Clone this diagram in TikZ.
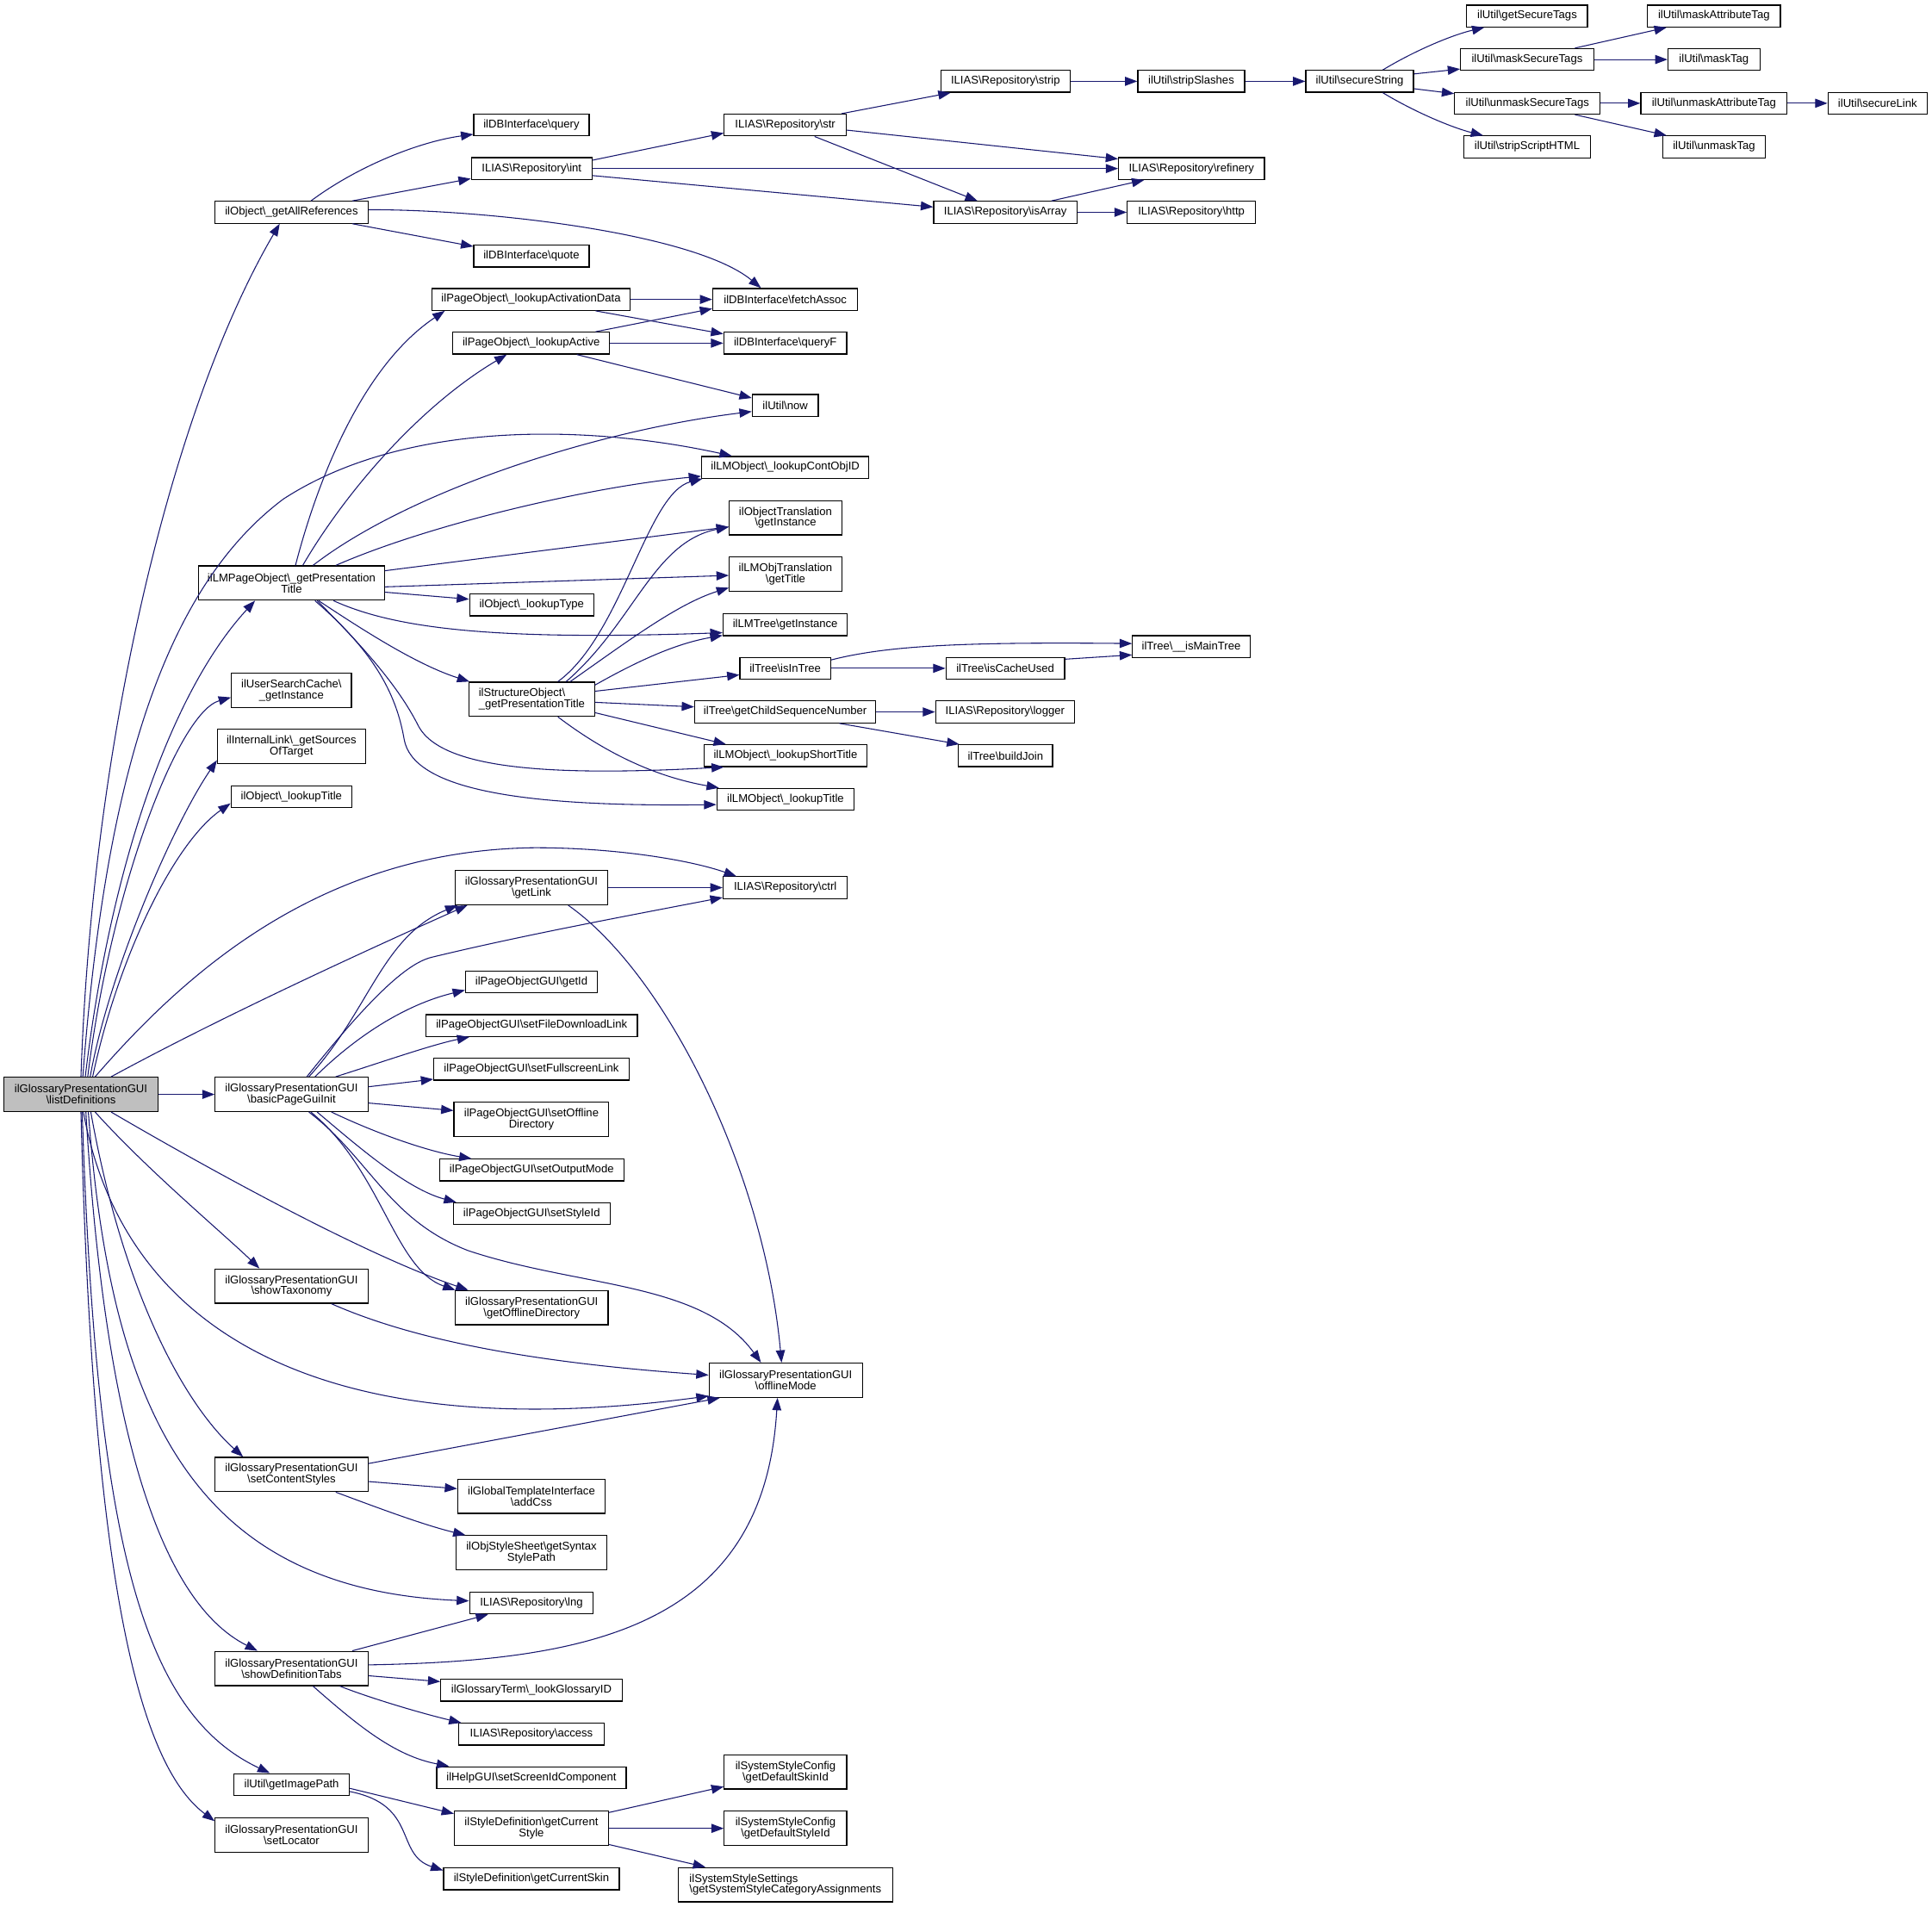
\documentclass[tikz,border=0pt]{standalone}
\usepackage{fontspec}
\setmainfont{Liberation Sans}
\usetikzlibrary{arrows.meta}
\definecolor{edgec}{RGB}{25,25,112}
\definecolor{rootfill}{RGB}{191,191,191}
\newcommand{\BS}{\textbackslash}
\begin{document}
\begin{tikzpicture}[x=1pt,y=-1pt,
  box/.style={draw=black, line width=0.85pt, fill=white, inner sep=0pt, minimum height=17.7pt,
    font=\fontsize{9.15pt}{9pt}\selectfont, align=center},
  box2/.style={box, minimum height=27.8pt},
  edg/.style={draw=edgec, line width=0.75pt, -{Triangle[length=10pt,width=7.3pt]}}]
\fill[white] (0,0) rectangle (1568,1547.7);
\useasboundingbox (0,0) rectangle (1568,1547.7);

% ---------- nodes ----------
\node[box2, fill=rootfill, minimum width=124.8pt] (ld) at (65.7,888.2) {ilGlossaryPresentationGUI\\\BS listDefinitions};
\node[box, minimum width=124pt] (gar) at (236.6,172.3) {ilObject\BS\_getAllReferences};
\node[box, minimum width=93.6pt] (query) at (431.3,101.5) {ilDBInterface\BS query};
\node[box, minimum width=98pt] (int) at (431.5,136.8) {ILIAS\BS Repository\BS int};
\node[box, minimum width=93.6pt] (quote) at (431.3,207.8) {ilDBInterface\BS quote};
\node[box, minimum width=161pt] (lad) at (431,243) {ilPageObject\BS\_lookupActivationData};
\node[box, minimum width=127pt] (lact) at (431.1,278.5) {ilPageObject\BS\_lookupActive};
\node[box, minimum width=99pt] (str) at (637.3,101.5) {ILIAS\BS Repository\BS str};
\node[box, minimum width=105pt] (strip) at (816,66) {ILIAS\BS Repository\BS strip};
\node[box, minimum width=86.7pt] (slash) at (966.8,66) {ilUtil\BS stripSlashes};
\node[box, minimum width=118.3pt] (refin) at (967,136.8) {ILIAS\BS Repository\BS refinery};
\node[box, minimum width=116.3pt] (isarr) at (815.9,172.3) {ILIAS\BS Repository\BS isArray};
\node[box, minimum width=104pt] (http) at (966.9,172.3) {ILIAS\BS Repository\BS http};
\node[box, minimum width=117.7pt] (fetch) at (637.3,243) {ilDBInterface\BS fetchAssoc};
\node[box, minimum width=99.7pt] (qf) at (637.3,278.5) {ilDBInterface\BS queryF};
\node[box, minimum width=53.5pt] (now) at (637.3,329) {ilUtil\BS now};
\node[box, minimum width=135.8pt] (cobj) at (637.3,379.3) {ilLMObject\BS\_lookupContObjID};
\node[box, minimum width=87.4pt] (secs) at (1103.5,66) {ilUtil\BS secureString};
\node[box, minimum width=98pt] (gst) at (1239.4,13) {ilUtil\BS getSecureTags};
\node[box, minimum width=108pt] (mst) at (1239.4,48.3) {ilUtil\BS maskSecureTags};
\node[box, minimum width=118pt] (umst) at (1239.6,83.8) {ilUtil\BS unmaskSecureTags};
\node[box, minimum width=102.7pt] (ssh) at (1239.4,119.2) {ilUtil\BS stripScriptHTML};
\node[box, minimum width=107.8pt] (mat) at (1391,13) {ilUtil\BS maskAttributeTag};
\node[box, minimum width=74.5pt] (mtag) at (1391,48.3) {ilUtil\BS maskTag};
\node[box, minimum width=118.7pt] (umat) at (1391,83.8) {ilUtil\BS unmaskAttributeTag};
\node[box, minimum width=83.7pt] (umtag) at (1391.1,119.2) {ilUtil\BS unmaskTag};
\node[box, minimum width=80.4pt] (slink) at (1523.8,83.8) {ilUtil\BS secureLink};
\node[box2, minimum width=150.8pt] (lmp) at (236.6,473.2) {ilLMPageObject\BS\_getPresentation\\Title};
\node[box, minimum width=100.7pt] (ltype) at (431.5,491) {ilObject\BS\_lookupType};
\node[box2, minimum width=101.7pt, align=left] (sobj) at (431.6,567.5) {ilStructureObject\BS\\\_getPresentationTitle};
\node[box2, minimum width=97.3pt] (usc) at (236.5,560.1) {ilUserSearchCache\BS\\\_getInstance};
\node[box2, minimum width=120pt] (ilink) at (236.5,605.7) {ilInternalLink\BS\_getSources\\OfTarget};
\node[box, minimum width=98pt] (otitle) at (236.5,646.7) {ilObject\BS\_lookupTitle};
\node[box2, minimum width=123.7pt] (getlink) at (431.3,720.4) {ilGlossaryPresentationGUI\\\BS getLink};
\node[box2, minimum width=91.2pt] (otrans) at (637.5,420.2) {ilObjectTranslation\\\BS getInstance};
\node[box2, minimum width=91.2pt] (lmotrans) at (637.5,465.9) {ilLMObjTranslation\\\BS getTitle};
\node[box, minimum width=100.9pt] (lmtree) at (637.3,507) {ilLMTree\BS getInstance};
\node[box, minimum width=73.5pt] (isin) at (637.3,542.4) {ilTree\BS isInTree};
\node[box, minimum width=96.3pt] (cache) at (815.9,542.4) {ilTree\BS isCacheUsed};
\node[box, minimum width=95.3pt] (maintree) at (966.8,524.7) {ilTree\BS\_\_isMainTree};
\node[box, minimum width=147.1pt] (gcsn) at (637.3,577.8) {ilTree\BS getChildSequenceNumber};
\node[box, minimum width=112.7pt] (logger) at (815.7,577.8) {ILIAS\BS Repository\BS logger};
\node[box, minimum width=132pt] (stitle) at (637.5,613.3) {ilLMObject\BS\_lookupShortTitle};
\node[box, minimum width=76.5pt] (bjoin) at (816,613.3) {ilTree\BS buildJoin};
\node[box, minimum width=111.4pt] (ltitle) at (637.5,648.7) {ilLMObject\BS\_lookupTitle};
\node[box, minimum width=100.9pt] (ctrl) at (637.3,720.4) {ILIAS\BS Repository\BS ctrl};
\node[box2, minimum width=124pt] (bpgi) at (236.6,888.2) {ilGlossaryPresentationGUI\\\BS basicPageGuiInit};
\node[box, minimum width=107pt] (getid) at (431.3,796.8) {ilPageObjectGUI\BS getId};
\node[box, minimum width=171.5pt] (sfdl) at (431.5,832.3) {ilPageObjectGUI\BS setFileDownloadLink};
\node[box, minimum width=158.5pt] (sfsl) at (431.3,867.7) {ilPageObjectGUI\BS setFullscreenLink};
\node[box2, minimum width=125.7pt] (sod) at (431.3,908.6) {ilPageObjectGUI\BS setOffline\\Directory};
\node[box, minimum width=149.5pt] (som) at (431.5,949.6) {ilPageObjectGUI\BS setOutputMode};
\node[box, minimum width=127.4pt] (ssid) at (431.5,985) {ilPageObjectGUI\BS setStyleId};
\node[box2, minimum width=124pt] (stax) at (236.6,1043.8) {ilGlossaryPresentationGUI\\\BS showTaxonomy};
\node[box2, minimum width=124pt] (god) at (431.5,1061.3) {ilGlossaryPresentationGUI\\\BS getOfflineDirectory};
\node[box2, minimum width=124.4pt] (off) at (637.7,1120.2) {ilGlossaryPresentationGUI\\\BS offlineMode};
\node[box2, minimum width=124pt] (scs) at (236.6,1196.7) {ilGlossaryPresentationGUI\\\BS setContentStyles};
\node[box2, minimum width=119.7pt] (css) at (431.3,1214.3) {ilGlobalTemplateInterface\\\BS addCss};
\node[box2, minimum width=122.4pt] (ssp) at (431.3,1260.2) {ilObjStyleSheet\BS getSyntax\\StylePath};
\node[box, minimum width=100.4pt] (lng) at (431.3,1301) {ILIAS\BS Repository\BS lng};
\node[box2, minimum width=124pt] (sdt) at (236.6,1354.1) {ilGlossaryPresentationGUI\\\BS showDefinitionTabs};
\node[box, minimum width=147.1pt] (lgid) at (431.3,1371.8) {ilGlossaryTerm\BS\_lookGlossaryID};
\node[box, minimum width=117.7pt] (acc) at (431.3,1407.5) {ILIAS\BS Repository\BS access};
\node[box, minimum width=153.8pt] (sic) at (431.3,1442.7) {ilHelpGUI\BS setScreenIdComponent};
\node[box, minimum width=93.6pt] (gip) at (236.7,1448.3) {ilUtil\BS getImagePath};
\node[box2, minimum width=124pt] (sloc) at (236.6,1489.3) {ilGlossaryPresentationGUI\\\BS setLocator};
\node[box2, minimum width=125pt] (gcs) at (431.3,1483.8) {ilStyleDefinition\BS getCurrent\\Style};
\node[box, minimum width=142.5pt] (gcsk) at (431.3,1524.8) {ilStyleDefinition\BS getCurrentSkin};
\node[box2, minimum width=99.4pt] (dsk) at (637.5,1438.1) {ilSystemStyleConfig\\\BS getDefaultSkinId};
\node[box2, minimum width=99.4pt] (dsty) at (637.5,1483.9) {ilSystemStyleConfig\\\BS getDefaultStyleId};
\node[box2, minimum width=173.9pt, align=left] (ssca) at (637.4,1529.6) {ilSystemStyleSettings\\\BS getSystemStyleCategoryAssignments};

% ---------- edges from listDefinitions ----------
\draw[edg] (ld.north) .. controls (75,600) and (140,330) .. ([xshift=-9.6pt]gar.south);
\draw[edg] ([xshift=1.5pt]ld.north) .. controls (85,640) and (130,480) .. (230,405) .. controls (330,340) and (480,345) .. ([xshift=-43.3pt]cobj.north);
\draw[edg] ([xshift=3.5pt]ld.north) .. controls (90,700) and (140,560) .. ([xshift=-29.6pt]lmp.south);
\draw[edg] ([xshift=5.5pt]ld.north) .. controls (90,720) and (145,578) .. ([yshift=-5.9pt]usc.west);
\draw[edg] ([xshift=7.5pt]ld.north) .. controls (88,790) and (140,670) .. ([yshift=-11.3pt]ilink.west);
\draw[edg] ([xshift=9.5pt]ld.north) .. controls (95,780) and (140,685) .. ([yshift=-5.3pt]otitle.west);
\draw[edg] ([xshift=11.5pt]ld.north) .. controls (150,790) and (260,690) .. (434,688) .. controls (500,688) and (560,698) .. ([xshift=-39.7pt]ctrl.north);
\draw[edg] ([xshift=24.5pt]ld.north) .. controls (180,825) and (300,770) .. ([xshift=-52pt]getlink.south);
\draw[edg] (ld.east) -- (bpgi.west);
\draw[edg] ([xshift=11.5pt]ld.south) .. controls (120,950) and (180,1000) .. ([xshift=-26pt]stax.north);
\draw[edg] ([xshift=24.5pt]ld.south) .. controls (180,955) and (300,1020) .. ([xshift=-51.5pt]god.north);
\draw[edg] ([xshift=2pt]ld.south) .. controls (100,1080) and (260,1175) .. ([yshift=-12.8pt]off.west);
\draw[edg] ([xshift=8pt]ld.south) .. controls (100,1050) and (150,1140) .. ([xshift=-39.3pt]scs.north);
\draw[edg] ([xshift=6pt]ld.south) .. controls (90,1150) and (160,1290) .. ([yshift=1.7pt]lng.west);
\draw[edg] ([xshift=4pt]ld.south) .. controls (85,1160) and (130,1300) .. ([xshift=-27.6pt]sdt.north);
\draw[edg] ([xshift=1pt]ld.south) .. controls (78,1250) and (115,1390) .. ([xshift=-17.7pt]gip.north);
\draw[edg] (ld.south) .. controls (75,1270) and (110,1430) .. ([yshift=11.3pt]sloc.west);

% ---------- getAllReferences ----------
\draw[edg] ([xshift=15.8pt]gar.north) .. controls (290,135) and (340,115) .. ([yshift=-7.5pt]query.west);
\draw[edg] ([xshift=49.3pt]gar.north) -- ([yshift=-8.2pt]int.west);
\draw[edg] ([xshift=49.3pt]gar.south) -- ([yshift=7.8pt]quote.west);
\draw[edg] ([yshift=2.1pt]gar.east) .. controls (400,170) and (565,190) .. ([xshift=-19.7pt]fetch.north);

% ---------- repository / util ----------
\draw[edg] ([yshift=6.8pt]int.east) -- ([yshift=-6.5pt]str.west);
\draw[edg] (int.east) -- (refin.west);
\draw[edg] ([yshift=-5.7pt]int.east) -- ([yshift=4.3pt]isarr.west);
\draw[edg] ([xshift=45.7pt]str.north) -- ([xshift=-44.5pt]strip.south);
\draw[edg] ([yshift=-4.1pt]str.east) -- ([yshift=7.8pt]refin.west);
\draw[edg] ([xshift=23.8pt]str.south) -- ([xshift=-22.6pt]isarr.north);
\draw[edg] (strip.east) -- (slash.west);
\draw[edg] (slash.east) -- (secs.west);
\draw[edg] ([xshift=18.8pt]secs.north) .. controls (1150,40) and (1180,28) .. ([xshift=-34.7pt]gst.south);
\draw[edg] ([yshift=6pt]secs.east) -- ([yshift=-7.7pt]mst.west);
\draw[edg] ([yshift=-6pt]secs.east) -- ([yshift=7.8pt]umst.west);
\draw[edg] ([xshift=18.8pt]secs.south) .. controls (1150,92) and (1180,104) .. ([xshift=-35.7pt]ssh.north);
\draw[edg] ([xshift=38.8pt]mst.north) -- ([xshift=-38.4pt]mat.south);
\draw[edg] (mst.east) -- (mtag.west);
\draw[edg] (umst.east) -- (umat.west);
\draw[edg] ([xshift=38.6pt]umst.south) -- ([xshift=-38.5pt]umtag.north);
\draw[edg] (umat.east) -- (slink.west);
\draw[edg] ([xshift=37.4pt]isarr.north) -- ([xshift=-38.4pt]refin.south);
\draw[edg] (isarr.east) -- (http.west);
\draw[edg] (lad.east) -- (fetch.west);
\draw[edg] ([xshift=52.3pt]lad.south) -- ([yshift=7.5pt]qf.west);
\draw[edg] ([xshift=52.2pt]lact.north) -- ([yshift=-7.5pt]fetch.west);
\draw[edg] (lact.east) -- (qf.west);
\draw[edg] ([xshift=37.1pt]lact.south) -- ([yshift=6pt]now.west);

% ---------- LMPageObject ----------
\draw[edg] ([xshift=3.2pt]lmp.north) .. controls (255,400) and (290,300) .. ([xshift=-70pt]lad.south);
\draw[edg] ([xshift=9.1pt]lmp.north) .. controls (280,400) and (340,330) .. ([xshift=-19.8pt]lact.south);
\draw[edg] ([xshift=17.4pt]lmp.north) .. controls (330,400) and (480,350) .. ([yshift=-5pt]now.west);
\draw[edg] ([xshift=35.9pt]lmp.north) .. controls (350,425) and (480,395) .. ([yshift=-7.2pt]cobj.west);
\draw[edg] ([yshift=10pt]lmp.east) -- ([yshift=-7.4pt]otrans.west);
\draw[edg] ([yshift=-3.1pt]lmp.east) -- ([yshift=-1.1pt]lmotrans.west);
\draw[edg] ([yshift=-7.4pt]lmp.east) -- ([yshift=4.7pt]ltype.west);
\draw[edg] ([xshift=34.1pt]lmp.south) .. controls (320,510) and (400,520) .. ([yshift=-6.5pt]lmtree.west);
\draw[edg] ([xshift=22pt]lmp.south) .. controls (300,515) and (340,540) .. ([xshift=-50.6pt]sobj.north);
\draw[edg] ([xshift=20.8pt]lmp.south) .. controls (300,530) and (325,560) .. (340,590) .. controls (360,625) and (450,630) .. ([xshift=-50pt]stitle.south);
\draw[edg] ([xshift=19pt]lmp.south) .. controls (305,530) and (322,565) .. (328,600) .. controls (335,640) and (420,655) .. ([yshift=-4.3pt]ltitle.west);

% ---------- StructureObject ----------
\draw[edg] ([xshift=21.2pt]sobj.north) .. controls (505,515) and (525,400) .. ([xshift=-67.3pt]cobj.south);
\draw[edg] ([xshift=27.9pt]sobj.north) .. controls (515,505) and (530,440) .. ([yshift=-7.4pt]otrans.west);
\draw[edg] ([xshift=31.2pt]sobj.north) .. controls (510,520) and (550,490) .. ([yshift=-11.1pt]lmotrans.west);
\draw[edg] ([yshift=11.5pt]sobj.east) .. controls (520,535) and (550,522) .. ([yshift=-8.7pt]lmtree.west);
\draw[edg] ([yshift=6.5pt]sobj.east) -- ([yshift=-5.3pt]isin.west);
\draw[edg] ([yshift=-2.5pt]sobj.east) -- ([yshift=4.1pt]gcsn.west);
\draw[edg] ([yshift=-10.9pt]sobj.east) -- ([xshift=-48.3pt]stitle.north);
\draw[edg] ([xshift=21.2pt]sobj.south) .. controls (490,610) and (530,630) .. ([xshift=-54pt]ltitle.north);

% ---------- Tree ----------
\draw[edg] ([yshift=6.8pt]isin.east) .. controls (720,524) and (780,521) .. ([yshift=2.4pt]maintree.west);
\draw[edg] (isin.east) -- (cache.west);
\draw[edg] ([yshift=7.4pt]cache.east) -- ([yshift=-6.8pt]maintree.west);
\draw[edg] (gcsn.east) -- (logger.west);
\draw[edg] ([xshift=43.9pt]gcsn.south) -- ([xshift=-37.5pt]bjoin.north);

% ---------- getLink ----------
\draw[edg] (getlink.east) -- (ctrl.west);
\draw[edg] ([xshift=29.9pt]getlink.south) .. controls (540,790) and (620,950) .. ([xshift=-3.4pt]off.north);

% ---------- basicPageGuiInit ----------
\draw[edg] ([xshift=14.1pt]bpgi.north) .. controls (300,820) and (310,760) .. ([xshift=-60pt]getlink.south);
\draw[edg] ([xshift=12.4pt]bpgi.north) .. controls (300,810) and (330,782) .. (350,777) .. controls (420,760) and (500,745) .. ([yshift=-8pt]ctrl.west);
\draw[edg] ([xshift=19.1pt]bpgi.north) .. controls (290,840) and (330,815) .. ([yshift=-6.8pt]getid.west);
\draw[edg] ([xshift=35.8pt]bpgi.north) .. controls (310,862) and (350,848) .. ([xshift=-50.5pt]sfdl.south);
\draw[edg] ([yshift=6.2pt]bpgi.east) -- ([yshift=-8.2pt]sfsl.west);
\draw[edg] ([yshift=-7pt]bpgi.east) -- ([yshift=7.3pt]sod.west);
\draw[edg] ([xshift=32.4pt]bpgi.south) .. controls (310,922) and (350,935) .. ([xshift=-48.8pt]som.north);
\draw[edg] ([xshift=20.8pt]bpgi.south) .. controls (290,930) and (330,965) .. ([xshift=-61.2pt]ssid.north);
\draw[edg] ([xshift=15.7pt]bpgi.south) .. controls (310,950) and (320,1030) .. ([xshift=-62pt]god.north);
\draw[edg] ([xshift=14.1pt]bpgi.south) .. controls (300,940) and (315,990) .. (380,1015) .. controls (470,1045) and (570,1040) .. ([xshift=-20.1pt]off.north);

% ---------- lower part ----------
\draw[edg] ([xshift=32.4pt]stax.south) .. controls (330,1085) and (420,1105) .. ([yshift=4.2pt]off.west);
\draw[edg] ([yshift=8.9pt]scs.east) -- ([xshift=-53.5pt]off.south);
\draw[edg] ([yshift=-5.7pt]scs.east) -- ([yshift=6.1pt]css.west);
\draw[edg] ([xshift=35.9pt]scs.south) .. controls (310,1225) and (345,1238) .. ([xshift=-53.5pt]ssp.north);
\draw[edg] ([xshift=49.3pt]sdt.north) -- ([xshift=-35.1pt]lng.south);
\draw[edg] ([yshift=2.9pt]sdt.east) .. controls (480,1348) and (620,1320) .. ([xshift=-6.7pt]off.south);
\draw[edg] ([yshift=-5.9pt]sdt.east) -- ([yshift=7pt]lgid.west);
\draw[edg] ([xshift=39.1pt]sdt.south) .. controls (300,1378) and (340,1390) .. ([xshift=-56.9pt]acc.north);
\draw[edg] ([xshift=17.4pt]sdt.south) .. controls (290,1400) and (320,1425) .. ([xshift=-66.9pt]sic.north);
\draw[edg] ([yshift=-3.1pt]gip.east) -- ([yshift=11.8pt]gcs.west);
\draw[edg] ([yshift=-5.7pt]gip.east) .. controls (340,1465) and (320,1505) .. ([yshift=6.8pt]gcsk.west);
\draw[edg] ([yshift=12.8pt]gcs.east) -- ([yshift=-11.9pt]dsk.west);
\draw[edg] (gcs.east) -- (dsty.west);
\draw[edg] ([yshift=-13.2pt]gcs.east) -- ([xshift=-64.9pt]ssca.north);
\end{tikzpicture}
\end{document}
